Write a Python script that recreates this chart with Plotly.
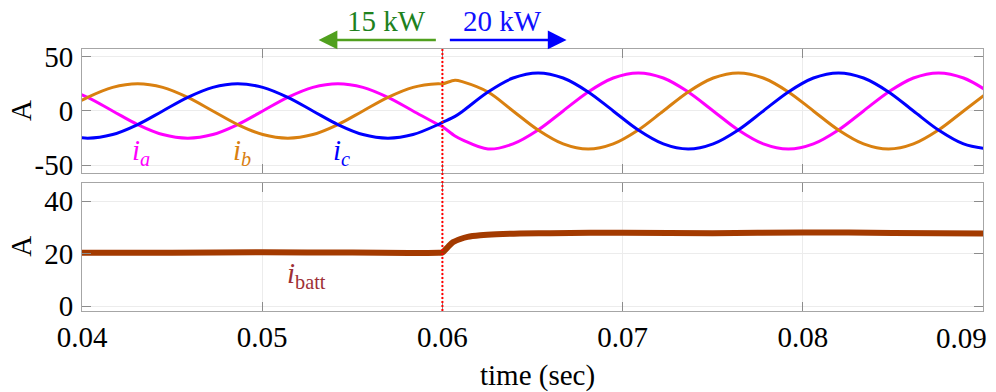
import plotly.graph_objects as go

# ---- three-phase grid currents (A), sampled every 30 electrical degrees ----
t_ph = [0.03892, 0.04031, 0.04170, 0.04309, 0.04448, 0.04587, 0.04726, 0.04864,
        0.05003, 0.05142, 0.05281, 0.05420, 0.05559, 0.05698, 0.05837, 0.05976,
        0.06000, 0.06070,
        0.06114, 0.06253, 0.06392, 0.06531, 0.06670, 0.06809, 0.06948, 0.07087,
        0.07226, 0.07364, 0.07503, 0.07642, 0.07781, 0.07920, 0.08059, 0.08198,
        0.08337, 0.08476, 0.08614, 0.08753, 0.08892, 0.09031]

i_a = [21.7, 12.5, 0.0, -12.5, -21.7, -25.0, -21.7, -12.5,
       0.0, 12.5, 21.7, 25.0, 21.7, 12.5, 0.0, -12.5,
       -14.4, -23.1,
       -26.8, -35.0, -30.3, -17.5, 0.0, 17.5, 30.3, 35.0,
       30.3, 17.5, 0.0, -17.5, -30.3, -35.0, -30.3, -17.5,
       0.0, 17.5, 30.3, 35.0, 30.3, 17.5]

i_b = [0.0, 12.5, 21.7, 25.0, 21.7, 12.5, 0.0, -12.5,
       -21.7, -25.0, -21.7, -12.5, 0.0, 12.5, 21.7, 25.0,
       24.9, 28.3,
       26.8, 17.5, 0.0, -17.5, -30.3, -35.0, -30.3, -17.5,
       0.0, 17.5, 30.3, 35.0, 30.3, 17.5, 0.0, -17.5,
       -30.3, -35.0, -30.3, -17.5, 0.0, 17.5]

i_c = [-21.7, -25.0, -21.7, -12.5, 0.0, 12.5, 21.7, 25.0,
       21.7, 12.5, 0.0, -12.5, -21.7, -25.0, -21.7, -12.5,
       -10.5, -5.0,
       0.0, 17.5, 30.3, 35.0, 30.3, 17.5, 0.0, -17.5,
       -30.3, -35.0, -30.3, -17.5, 0.0, 17.5, 30.3, 35.0,
       30.3, 17.5, 0.0, -17.5, -30.3, -35.0]

# ---- battery current (A) ----
t_batt = [0.0395, 0.0450, 0.0500, 0.0550, 0.0598, 0.0600, 0.0603, 0.0606, 0.0610,
          0.0614, 0.0621, 0.0630, 0.0643, 0.0660, 0.0700, 0.0750, 0.0800, 0.0850, 0.0905]
i_batt = [20.3, 20.3, 20.5, 20.4, 20.3, 20.4, 22.5, 24.4, 25.6,
          26.4, 27.0, 27.4, 27.7, 27.8, 28.0, 27.8, 28.1, 27.9, 27.7]

# ---- axes ----
x_ticks = [0.04, 0.05, 0.06, 0.07, 0.08, 0.09]
x_ticktext = ["0.04", "0.05", "0.06", "0.07", "0.08", "0.09"]
y1_ticks = [-50, 0, 50]
y1_ticktext = ["-50", "0", "50"]
y2_ticks = [0, 20, 40]
y2_ticktext = ["0", "20", "40"]
t_step = 0.06

FONT = "Liberation Serif"
FS = 29
C_A, C_B, C_C = "#ff00ff", "#d98010", "#0000ff"
C_BATT = "#a33a00"

fig = go.Figure()
for y, c in ((i_a, C_A), (i_b, C_B), (i_c, C_C)):
    fig.add_trace(go.Scatter(x=t_ph, y=y, mode="lines", xaxis="x", yaxis="y",
                             line=dict(color=c, width=3, shape="spline", smoothing=1.0),
                             showlegend=False, hoverinfo="skip"))
fig.add_trace(go.Scatter(x=t_batt, y=i_batt, mode="lines", xaxis="x2", yaxis="y2",
                         line=dict(color=C_BATT, width=6, shape="spline", smoothing=0.8),
                         showlegend=False, hoverinfo="skip"))

axis_common = dict(
    showline=True, linecolor="#a6a6a6", linewidth=1, mirror="allticks",
    ticks="inside", ticklen=9, tickwidth=1, tickcolor="#8c8c8c",
    showgrid=True, gridcolor="#ececec", gridwidth=1, zeroline=False,
    tickfont=dict(family=FONT, size=FS, color="black"),
)
x_range = [0.04, 0.0900001]

# the last time label sits inside the right edge of the page, drawn separately below
bottom_ticktext = x_ticktext[:-1] + [""]

fig.update_layout(
    width=996, height=392,
    margin=dict(l=82, r=13, t=49, b=81),
    paper_bgcolor="white", plot_bgcolor="white",
    font=dict(family=FONT, size=FS, color="black"),
    xaxis=dict(domain=[0, 1], anchor="y", range=x_range,
               tickvals=x_ticks, ticktext=x_ticktext, showticklabels=False, **axis_common),
    yaxis=dict(domain=[0.527, 1], anchor="x", range=[-57, 57],
               tickvals=y1_ticks, ticktext=y1_ticktext, ticklabelstandoff=2, **axis_common),
    xaxis2=dict(domain=[0, 1], anchor="y2", range=x_range, matches="x",
                tickvals=x_ticks, ticktext=bottom_ticktext, ticklabelstandoff=0, **axis_common),
    yaxis2=dict(domain=[0, 0.49], anchor="x2", range=[-1.9, 47.1],
                tickvals=y2_ticks, ticktext=y2_ticktext, ticklabelstandoff=2, **axis_common),
)

# load-step instant
fig.add_shape(type="line", xref="x", yref="paper", x0=t_step, x1=t_step, y0=0, y1=1,
              line=dict(color="#ff0000", width=2, dash="2px,2px"), layer="above")

ann = []
# axis titles
for yc in (0.7635, 0.245):
    ann.append(dict(text="A", xref="paper", yref="paper", x=-0.0677, y=yc,
                    xanchor="center", yanchor="middle",
                    textangle=-90, showarrow=False, font=dict(size=FS)))
ann.append(dict(text="time (sec)", xref="paper", yref="paper", x=0.505, y=-0.245,
                xanchor="center", yanchor="middle", showarrow=False, font=dict(size=FS)))
ann.append(dict(text=x_ticktext[-1], xref="paper", yref="paper", x=0.976, y=-0.1042,
                xanchor="center", yanchor="middle", showarrow=False, font=dict(size=FS)))

# trace labels
for txt, xc, col in (("<i>i</i><sub><i>a</i></sub>", 0.04328, C_A),
                     ("<i>i</i><sub><i>b</i></sub>", 0.04889, C_B),
                     ("<i>i</i><sub><i>c</i></sub>", 0.05439, C_C)):
    ann.append(dict(text=txt, xref="x", yref="y", x=xc, y=-38,
                    xanchor="center", yanchor="middle",
                    showarrow=False, font=dict(size=FS, color=col)))
ann.append(dict(text="<i>i</i><sub>batt</sub>", xref="x2", yref="y2", x=0.05244, y=12,
                xanchor="center", yanchor="middle",
                showarrow=False, font=dict(size=FS, color="#9e2f35")))

# power-level arrows
ann.append(dict(text="", xref="x", yref="paper", x=0.05313, y=1.0344,
                axref="x", ax=0.05972, ayref="pixel", ay=0,
                showarrow=True, arrowhead=2, arrowsize=1.5, arrowwidth=2.5,
                arrowcolor="#50a01e", standoff=0))
ann.append(dict(text="", xref="x", yref="paper", x=0.06689, y=1.0344,
                axref="x", ax=0.06033, ayref="pixel", ay=0,
                showarrow=True, arrowhead=2, arrowsize=1.5, arrowwidth=2.5,
                arrowcolor="#0000ff", standoff=0))
ann.append(dict(text="15 kW", xref="x", yref="paper", x=0.05689, y=1.107,
                xanchor="center", yanchor="middle",
                showarrow=False, font=dict(size=FS, color="#1e821e")))
ann.append(dict(text="20 kW", xref="x", yref="paper", x=0.06336, y=1.107,
                xanchor="center", yanchor="middle",
                showarrow=False, font=dict(size=FS, color="#1010ff")))

fig.update_layout(annotations=ann)
fig.write_html("out.html")
